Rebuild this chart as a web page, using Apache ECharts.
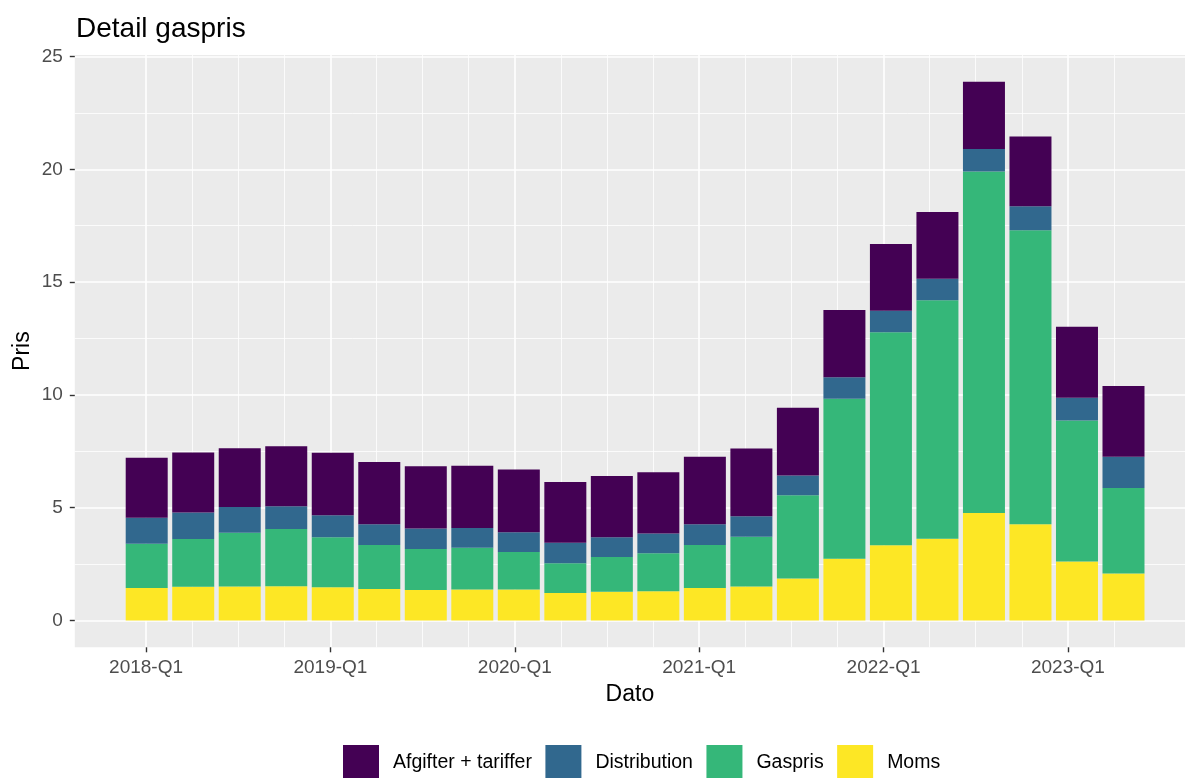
<!DOCTYPE html>
<html>
<head>
<meta charset="utf-8">
<script src="https://cdn.jsdelivr.net/npm/echarts@6/dist/echarts.min.js"></script>
<style>
html,body{margin:0;padding:0;background:#fff;}
#chart{width:1185px;height:778px;}
</style>
</head>
<body>
<div id="chart"></div>
<script>
const quarters = ['2018-Q1','2018-Q2','2018-Q3','2018-Q4','2019-Q1','2019-Q2','2019-Q3','2019-Q4',
  '2020-Q1','2020-Q2','2020-Q3','2020-Q4','2021-Q1','2021-Q2','2021-Q3','2021-Q4',
  '2022-Q1','2022-Q2','2022-Q3','2022-Q4','2023-Q1','2023-Q2'];
const moms         = [1.44,1.49,1.51,1.52,1.47,1.39,1.35,1.37,1.37,1.22,1.27,1.30,1.44,1.51,1.86,2.74,3.33,3.62,4.76,4.27,2.61,2.08];
const gaspris      = [1.96,2.12,2.38,2.54,2.22,1.96,1.82,1.85,1.66,1.32,1.54,1.68,1.91,2.20,3.69,7.09,9.45,10.58,15.14,13.03,6.26,3.79];
const distribution = [1.15,1.18,1.14,1.00,0.98,0.92,0.91,0.88,0.88,0.91,0.88,0.88,0.92,0.91,0.88,0.95,0.95,0.95,1.00,1.06,1.00,1.39];
const afgifter     = [2.66,2.66,2.60,2.66,2.76,2.75,2.76,2.76,2.78,2.69,2.72,2.71,2.99,3.00,3.00,2.98,2.96,2.96,2.98,3.10,3.15,3.13];
const yTicks = [0,5,10,15,20,25];
const yMinor = [2.5,7.5,12.5,17.5,22.5];
const xLabelIdx = [0,4,8,12,16,20];

const FONT = 'Liberation Sans, Arial, sans-serif';
const colors = {afg:'#440154', dist:'#31688E', gas:'#35B779', moms:'#FDE725'};
const Y_MIN = -1.19, Y_MAX = 25.07;

const gridLines = [];
yTicks.forEach(v => gridLines.push({yAxis: v, lineStyle:{width:1.6}}));
yMinor.forEach(v => gridLines.push({yAxis: v, lineStyle:{width:0.8}}));
quarters.forEach((q,i) => gridLines.push({xAxis: i, lineStyle:{width: xLabelIdx.includes(i) ? 1.6 : 0.8}}));

function barSeries(name, arr, color){
  return {
    name, type:'bar', stack:'total', z:2,
    xAxisIndex:1, yAxisIndex:1,
    barWidth:42,
    itemStyle:{color},
    data: arr
  };
}

const chart = echarts.init(document.getElementById('chart'), null, {renderer:'canvas'});
chart.setOption({
  animation:false,
  textStyle:{fontFamily:FONT},
  title:{text:'Detail gaspris', left:71, top:10,
    textStyle:{fontFamily:FONT, fontSize:28, fontWeight:'normal', color:'#000'}},
  grid:[
    {left:74.8, right:-10.2, top:55, bottom:130.7, show:true, backgroundColor:'#EBEBEB', borderWidth:0},
    {left:123.45, right:38.25, top:55, bottom:130.7, show:false}
  ],
  xAxis:[{
    type:'value', gridIndex:0, min:-1.546, max:22.54,
    name:'Dato', nameLocation:'middle', nameGap:36, nameMoveOverlap:false,
    nameTextStyle:{fontFamily:FONT, fontSize:23, color:'#000'},
    axisLine:{show:false, onZero:false},
    axisTick:{show:true, length:5, lineStyle:{color:'#333', width:1.4}, customValues:xLabelIdx},
    axisLabel:{customValues:xLabelIdx, margin:11, fontSize:19, color:'#4D4D4D', fontFamily:FONT,
      formatter:v => quarters[Math.round(v)] || ''},
    splitLine:{show:false}
  },{
    type:'category', gridIndex:1, data:quarters, boundaryGap:true, show:false
  }],
  yAxis:[{
    type:'value', gridIndex:0, min:Y_MIN, max:Y_MAX,
    name:'Pris', nameLocation:'middle', nameGap:41, nameRotate:90, nameMoveOverlap:false,
    nameTextStyle:{fontFamily:FONT, fontSize:23, color:'#000'},
    axisLine:{show:false, onZero:false},
    axisTick:{show:true, length:5, lineStyle:{color:'#333', width:1.4}, customValues:yTicks},
    axisLabel:{customValues:yTicks, margin:12, fontSize:19, color:'#4D4D4D', fontFamily:FONT},
    splitLine:{show:false}
  },{
    type:'value', gridIndex:1, min:Y_MIN, max:Y_MAX, show:false, splitLine:{show:false}
  }],
  legend:{
    data:['Afgifter + tariffer','Distribution','Gaspris','Moms'],
    left:343, top:745, padding:0, itemWidth:36, itemHeight:36, itemGap:13.5,
    icon:'rect',
    textStyle:{fontFamily:FONT, fontSize:19.5, color:'#000', padding:[4,0,0,9]}
  },
  series:[
    {type:'line', name:'grid', data:[], z:0, silent:true, xAxisIndex:0, yAxisIndex:0,
      markLine:{silent:true, z:0, symbol:'none', label:{show:false}, animation:false,
        lineStyle:{color:'#FFFFFF', type:'solid'}, emphasis:{disabled:true},
        data:gridLines}},
    barSeries('Moms', moms, colors.moms),
    barSeries('Gaspris', gaspris, colors.gas),
    barSeries('Distribution', distribution, colors.dist),
    barSeries('Afgifter + tariffer', afgifter, colors.afg)
  ]
});
</script>
</body>
</html>
